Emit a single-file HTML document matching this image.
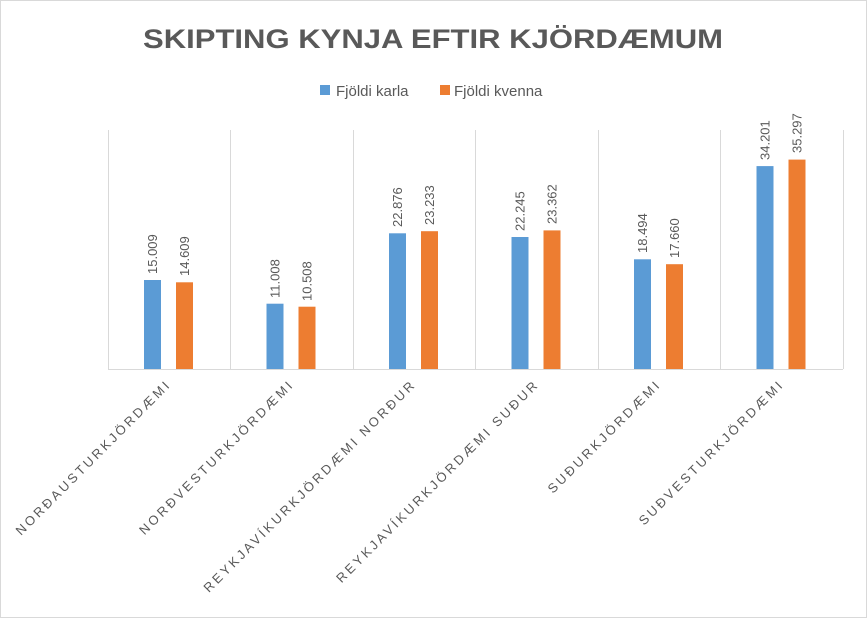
<!DOCTYPE html>
<html><head><meta charset="utf-8"><style>
html,body{margin:0;padding:0;background:#fff;}
svg{display:block;font-family:"Liberation Sans",sans-serif;}
</style></head><body>
<svg width="867" height="618" viewBox="0 0 867 618" xmlns="http://www.w3.org/2000/svg">
<rect x="0.5" y="0.5" width="866" height="617" fill="#fff" stroke="#d9d9d9"/>
<text x="433" y="48" text-anchor="middle" font-size="27" font-weight="bold" fill="#595959" textLength="580" lengthAdjust="spacingAndGlyphs">SKIPTING  KYNJA  EFTIR  KJÖRDÆMUM</text>
<rect x="320" y="85" width="10" height="10" fill="#5b9bd5"/>
<text x="336" y="96" font-size="15" fill="#595959">Fjöldi karla</text>
<rect x="440" y="85" width="10" height="10" fill="#ed7d31"/>
<text x="454" y="96" font-size="15" fill="#595959">Fjöldi kvenna</text>
<g stroke="#d9d9d9" stroke-width="1">
<line x1="108.5" y1="130" x2="108.5" y2="369"/>
<line x1="230.5" y1="130" x2="230.5" y2="369"/>
<line x1="353.5" y1="130" x2="353.5" y2="369"/>
<line x1="475.5" y1="130" x2="475.5" y2="369"/>
<line x1="598.5" y1="130" x2="598.5" y2="369"/>
<line x1="720.5" y1="130" x2="720.5" y2="369"/>
<line x1="843.5" y1="130" x2="843.5" y2="369"/>
<line x1="108" y1="369.5" x2="843" y2="369.5"/>
</g>
<g fill="#5b9bd5">
<rect x="144" y="280" width="17" height="89"/>
<rect x="266.5" y="303.7" width="17" height="65.3"/>
<rect x="389" y="233.3" width="17" height="135.7"/>
<rect x="511.5" y="237" width="17" height="132"/>
<rect x="634" y="259.3" width="17" height="109.7"/>
<rect x="756.5" y="166.1" width="17" height="202.9"/>
</g>
<g fill="#ed7d31">
<rect x="176" y="282.3" width="17" height="86.7"/>
<rect x="298.5" y="306.7" width="17" height="62.3"/>
<rect x="421" y="231.2" width="17" height="137.8"/>
<rect x="543.5" y="230.4" width="17" height="138.6"/>
<rect x="666" y="264.2" width="17" height="104.8"/>
<rect x="788.5" y="159.6" width="17" height="209.4"/>
</g>
<g font-size="13" fill="#595959">
<text transform="translate(157,274) rotate(-90)">15.009</text>
<text transform="translate(189,276) rotate(-90)">14.609</text>
<text transform="translate(279.5,298) rotate(-90)">11.008</text>
<text transform="translate(311.5,301) rotate(-90)">10.508</text>
<text transform="translate(402,227) rotate(-90)">22.876</text>
<text transform="translate(434,225) rotate(-90)">23.233</text>
<text transform="translate(524.5,231) rotate(-90)">22.245</text>
<text transform="translate(556.5,224) rotate(-90)">23.362</text>
<text transform="translate(647,253) rotate(-90)">18.494</text>
<text transform="translate(679,258) rotate(-90)">17.660</text>
<text transform="translate(769.5,160) rotate(-90)">34.201</text>
<text transform="translate(801.5,153) rotate(-90)">35.297</text>
</g>
<g font-size="13" fill="#595959" text-anchor="end" letter-spacing="2.8">
<text transform="translate(172,385) rotate(-45)">NORÐAUSTURKJÖRDÆMI</text>
<text transform="translate(295,385) rotate(-45)">NORÐVESTURKJÖRDÆMI</text>
<text transform="translate(417,385) rotate(-45)">REYKJAVÍKURKJÖRDÆMI NORÐUR</text>
<text transform="translate(540,385) rotate(-45)">REYKJAVÍKURKJÖRDÆMI SUÐUR</text>
<text transform="translate(662,385) rotate(-45)">SUÐURKJÖRDÆMI</text>
<text transform="translate(785,385) rotate(-45)">SUÐVESTURKJÖRDÆMI</text>
</g>
</svg>
</body></html>
